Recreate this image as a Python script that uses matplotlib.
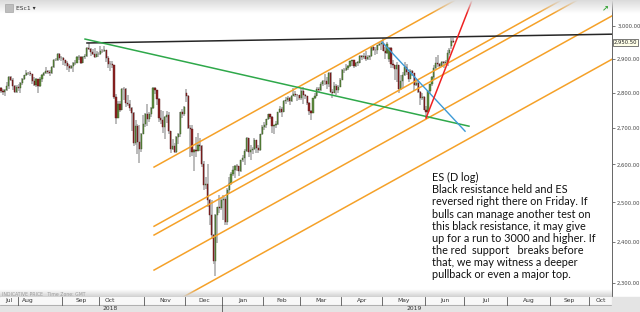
import numpy as np
import matplotlib.pyplot as plt
from matplotlib.ticker import FixedLocator, NullLocator
from matplotlib.patches import Rectangle

# ES daily candles (open, high, low, close)
jul18 = [(2815,2818,2800,2804),(2804,2812,2795,2801),(2801,2810,2792,2807),(2807,2830,2805,2821),
         (2821,2848,2812,2847),(2847,2850,2833,2838),(2838,2844,2808,2819),(2819,2822,2798,2803),
         (2803,2822,2800,2817)]
aug18 = [(2817,2826,2805,2814),(2814,2830,2800,2828),(2828,2842,2824,2841),(2841,2852,2837,2851),
         (2851,2866,2849,2859),(2859,2862,2851,2858),(2858,2864,2850,2854),(2854,2855,2826,2834),
         (2834,2845,2819,2822),(2822,2842,2818,2840),(2840,2841,2800,2819),(2819,2846,2818,2841),
         (2841,2854,2832,2851),(2851,2861,2850,2858),(2858,2875,2856,2863),(2863,2868,2855,2862),
         (2862,2867,2850,2857),(2857,2878,2855,2875),(2875,2900,2873,2897),(2897,2904,2893,2898),
         (2898,2917,2895,2915),(2915,2918,2896,2902),(2902,2908,2895,2903)]
sep18 = [(2903,2905,2883,2897),(2897,2898,2880,2889),(2889,2893,2866,2879),(2879,2886,2862,2873),
         (2873,2883,2870,2878),(2878,2891,2860,2888),(2888,2896,2881,2889),(2889,2910,2888,2905),
         (2905,2912,2898,2906),(2906,2910,2886,2889),(2889,2910,2887,2905),(2905,2915,2900,2908),
         (2908,2936,2906,2932),(2932,2947,2928,2931),(2931,2934,2910,2920),(2920,2930,2912,2916),
         (2916,2932,2903,2907),(2907,2925,2906,2915),(2915,2920,2906,2915)]
oct18 = [(2915,2940,2912,2925),(2925,2931,2917,2924),(2924,2940,2921,2926),(2926,2927,2890,2902),
         (2902,2910,2874,2886),(2886,2895,2863,2885),(2885,2894,2874,2881),(2881,2883,2783,2787),
         (2787,2797,2711,2729),(2729,2776,2728,2768),(2768,2775,2746,2752),(2752,2813,2750,2811),
         (2811,2817,2778,2810),(2810,2813,2759,2770),(2770,2795,2761,2768),(2768,2780,2747,2757),
         (2757,2759,2692,2742),(2742,2744,2651,2658),(2658,2721,2652,2706),(2706,2711,2627,2660),
         (2660,2707,2603,2641),(2641,2686,2633,2683),(2683,2736,2682,2712)]
nov18 = [(2712,2741,2704,2740),(2740,2767,2705,2724),(2724,2745,2717,2739),(2739,2760,2730,2756),
         (2756,2816,2754,2814),(2814,2816,2796,2808),(2808,2809,2764,2782),(2782,2786,2718,2727),
         (2727,2752,2712,2723),(2723,2747,2685,2702),(2702,2735,2670,2731),(2731,2747,2713,2737),
         (2737,2744,2682,2691),(2691,2692,2632,2642),(2642,2670,2640,2650),(2650,2657,2631,2633),
         (2633,2678,2632,2674),(2674,2686,2656,2682),(2682,2746,2674,2744),(2744,2754,2728,2738),
         (2738,2763,2735,2760)]
dec18 = [(2798,2812,2773,2791),(2791,2795,2696,2701),(2701,2708,2621,2697),(2697,2709,2624,2634),
         (2634,2642,2583,2638),(2638,2675,2620,2637),(2637,2686,2645,2652),(2652,2671,2637,2651),
         (2651,2652,2593,2600),(2600,2608,2531,2546),(2546,2567,2535,2547),(2547,2600,2489,2507),
         (2507,2510,2443,2468),(2468,2507,2408,2418),(2418,2419,2346,2352),(2352,2470,2317,2468),
         (2468,2489,2397,2489),(2489,2520,2472,2486),(2486,2511,2480,2507)]
jan19 = [(2507,2519,2456,2510),(2510,2513,2443,2449),(2449,2538,2441,2532),(2532,2566,2524,2550),
         (2550,2580,2545,2575),(2575,2597,2568,2585),(2585,2598,2564,2597),(2597,2600,2582,2596),
         (2596,2597,2568,2583),(2583,2613,2580,2611),(2611,2626,2607,2617),(2617,2642,2598,2637),
         (2637,2675,2634,2671),(2671,2672,2619,2633),(2633,2652,2613,2640),(2640,2648,2628,2643),
         (2643,2673,2640,2666),(2666,2667,2630,2644),(2644,2654,2631,2640),(2640,2684,2636,2682),
         (2682,2708,2680,2704)]
feb19 = [(2704,2718,2695,2707),(2707,2725,2699,2724),(2724,2740,2722,2738),(2738,2739,2725,2732),
         (2732,2734,2687,2706),(2706,2709,2682,2708),(2708,2719,2701,2710),(2710,2745,2708,2744),
         (2744,2761,2742,2753),(2753,2759,2731,2746),(2746,2779,2744,2776),(2776,2787,2768,2780),
         (2780,2791,2774,2785),(2785,2787,2765,2775),(2775,2793,2773,2792),(2792,2813,2791,2796),
         (2796,2804,2787,2794),(2794,2797,2775,2793),(2793,2794,2780,2784)]
mar19 = [(2784,2813,2780,2804),(2804,2817,2768,2793),(2793,2796,2782,2790),(2790,2791,2766,2771),
         (2771,2773,2737,2749),(2749,2751,2722,2743),(2743,2786,2741,2784),(2784,2799,2782,2792),
         (2792,2818,2790,2812),(2812,2816,2801,2809),(2809,2832,2805,2825),(2825,2837,2820,2835),
         (2835,2855,2823,2834),(2834,2845,2811,2826),(2826,2862,2818,2857),(2857,2861,2799,2803),
         (2803,2812,2785,2800),(2800,2831,2799,2820),(2820,2827,2793,2809),(2809,2822,2800,2818),
         (2818,2842,2816,2838)]
apr19 = [(2838,2869,2836,2867),(2867,2872,2858,2867),(2867,2885,2865,2873),(2873,2882,2866,2880),
         (2880,2894,2877,2893),(2893,2897,2880,2896),(2896,2897,2872,2878),(2878,2891,2877,2889),
         (2889,2894,2880,2889),(2889,2911,2888,2908),(2908,2912,2898,2906),(2906,2918,2900,2908),
         (2908,2923,2894,2901),(2901,2911,2896,2906),(2906,2911,2897,2909),(2909,2937,2905,2935),
         (2935,2938,2925,2928),(2928,2935,2912,2927),(2927,2942,2915,2941),(2941,2950,2938,2945),
         (2945,2953,2928,2948)]
may19 = [(2948,2964,2923,2925),(2925,2935,2900,2918),(2918,2950,2916,2946),(2900,2935,2890,2933),
         (2933,2937,2873,2885),(2885,2897,2872,2881),(2881,2883,2837,2871),(2871,2892,2832,2882),
         (2882,2883,2800,2812),(2812,2851,2809,2835),(2835,2860,2815,2852),(2852,2891,2850,2877),
         (2877,2885,2853,2860),(2860,2860,2832,2841),(2841,2869,2840,2865),(2865,2867,2850,2857),
         (2857,2859,2805,2823),(2823,2841,2820,2828),(2828,2840,2800,2803),(2803,2806,2766,2785),
         (2785,2799,2780,2789),(2789,2791,2750,2752)]
jun19 = [(2752,2761,2728,2744),(2744,2806,2743,2804),(2804,2827,2796,2826),(2826,2850,2820,2845),
         (2845,2881,2837,2874),(2874,2906,2870,2887),(2887,2912,2875,2885),(2885,2888,2874,2880),
         (2880,2895,2877,2892),(2892,2895,2874,2888),(2888,2897,2884,2890),(2890,2926,2880,2918),
         (2918,2932,2912,2927),(2940,2963,2931,2955),(2955,2964,2947,2950.5)]

# month labels and trading-day index where each month starts (Jul 2019 on = empty future space)
month_names = ['Jul','Aug','Sep','Oct','Nov','Dec','Jan','Feb','Mar','Apr','May','Jun','Jul','Aug','Sep','Oct']
month_starts = [0, 9, 32, 51, 74, 95, 114, 135, 154, 175, 196, 218, 238, 260, 282, 302]
years = ['2018', '2019']

price_ticks = [2300, 2400, 2500, 2600, 2700, 2800, 2900, 3000]
last_price = 2950.5

# drawn lines: (x0, p0, x1, p1)
black_res = (44.1, 2948, 313.4, 2975)
green_line = (43.1, 2960, 240.0, 2705)
blue_line = (195.4, 2951, 238.0, 2691)
red_support = (218.0, 2728, 245.7, 3148)
orange_lines = [(78.5, 2593, 313.4, 3372),
                (78.5, 2439, 313.4, 3173),
                (78.5, 2417, 313.4, 3144),
                (78.5, 2331, 313.4, 3032),
                (76.4, 2224, 313.4, 2899)]

note = ("ES (D log)\nBlack resistance held and ES\nreversed right there on Friday. If\n"
        "bulls can manage another test on\nthis black resistance, it may give\n"
        "up for a run to 3000 and higher. If\nthe red  support   breaks before\n"
        "that, we may witness a deeper\npullback or even a major top.")

candles = np.array(jul18 + aug18 + sep18 + oct18 + nov18 + dec18 + jan19 + feb19 +
                   mar19 + apr19 + may19 + jun19, dtype=float)
o, h, l, c = candles.T
x = np.arange(len(candles))

W, H = 640, 312
fig = plt.figure(figsize=(6.4, 3.12), dpi=100)
ax = fig.add_axes([0, 15/H, 612/W, 297/H])

up = c >= o
ax.vlines(x, l, h, color='#a8a8a8', lw=1.1, zorder=2)
body_lo = np.minimum(o, c)
body_hi = np.maximum(o, c)
body_hi = np.where(body_hi - body_lo < 1, body_lo + 1, body_hi)
ax.bar(x[up], body_hi[up] - body_lo[up], bottom=body_lo[up], width=0.6,
       color='#5f8f3e', edgecolor='#3b5a26', lw=0.3, zorder=3)
ax.bar(x[~up], body_hi[~up] - body_lo[~up], bottom=body_lo[~up], width=0.6,
       color='#8e2323', edgecolor='#5a1414', lw=0.3, zorder=3)

for ln in orange_lines:
    ax.plot([ln[0], ln[2]], [ln[1], ln[3]], color='#f5a128', lw=1.1, zorder=4)
ax.plot([black_res[0], black_res[2]], [black_res[1], black_res[3]], color='#262626', lw=1.1, zorder=5)
ax.plot([green_line[0], green_line[2]], [green_line[1], green_line[3]], color='#2ea84a', lw=1.1, zorder=5)
ax.plot([blue_line[0], blue_line[2]], [blue_line[1], blue_line[3]], color='#3d9ad6', lw=1.0, zorder=5)
ax.plot([red_support[0], red_support[2]], [red_support[1], red_support[3]], color='#ee2222', lw=1.1, zorder=5)

ax.set_yscale('log')
ax.set_xlim(-0.5, 313.35)
ax.set_ylim(2267, 3082)
ax.yaxis.tick_right()
ax.yaxis.set_major_locator(FixedLocator(price_ticks))
ax.yaxis.set_minor_locator(NullLocator())
ax.set_yticklabels([f'{p:,.2f}' for p in price_ticks])
ax.tick_params(axis='y', length=2.5, width=0.5, colors='#444444', labelsize=3.8, pad=1.2)
ax.set_xticks([])
for s in ['top', 'left']:
    ax.spines[s].set_visible(False)
ax.spines['right'].set_color('#666666')
ax.spines['right'].set_linewidth(0.7)
ax.spines['bottom'].set_color('#555555')
ax.spines['bottom'].set_linewidth(0.8)

ax.text(1.003, last_price, f'{last_price:,.2f}', transform=ax.get_yaxis_transform(),
        fontsize=3.8, va='center', ha='left', color='#222222',
        bbox=dict(boxstyle='square,pad=0.2', fc='#ffffe8', ec='#444444', lw=0.5), clip_on=False)

fig.text(432/W, 1 - 172/H, note, ha='left', va='top', fontsize=7.8, family='Lato',
         linespacing=1.13, color='#111111')

# bottom date bar
axd = fig.add_axes([0, 0, 612/W, 15/H])
axd.set_xlim(-0.5, 313.35)
axd.set_ylim(0, 2)
axd.axhspan(1, 2, color='#f8f8f8')
axd.axhspan(0, 1, color='#e4e4e4')
axd.axhline(1, color='#9a9a9a', lw=0.5)
axd.axis('off')
bounds = month_starts + [314]
for i, name in enumerate(month_names):
    if i > 0:
        axd.plot([month_starts[i] - 0.5] * 2, [1, 2], color='#555555', lw=0.6)
    mid = (bounds[i] + bounds[i + 1]) / 2 - 0.5
    if name in ('Aug', 'Oct') and i < 5:
        mid = month_starts[i] + 5
    axd.text(mid, 1.5, name, ha='center', va='center', fontsize=4.3, color='#333333')
axd.plot([113.5, 113.5], [0, 1], color='#555555', lw=0.6)
axd.text(56, 0.5, years[0], ha='center', va='center', fontsize=4.3, color='#333333')
axd.text(212, 0.5, years[1], ha='center', va='center', fontsize=4.3, color='#333333')
fig.patches.append(Rectangle((612/W, 0), 28/W, 15/H, transform=fig.transFigure,
                             color='#e4e4e4', zorder=0))

# grey fades along the top header and above the date bar
grad_top = np.ones((20, 1, 4))
grad_top[..., :3] = 0.86
grad_top[:, 0, 3] = np.linspace(1, 0, 20)
axt = fig.add_axes([0, 1 - 14/H, 1, 14/H])
axt.imshow(grad_top, aspect='auto', extent=(0, 1, 0, 1))
axt.axis('off')
grad_bot = np.ones((20, 1, 4))
grad_bot[..., :3] = 0.82
grad_bot[:, 0, 3] = np.linspace(0, 1, 20)
axb = fig.add_axes([0, 15/H, 612/W, 8/H])
axb.imshow(grad_bot, aspect='auto', extent=(0, 1, 0, 1))
axb.axis('off')
fig.text(2/W, 1 - 294/H, 'INDICATIVE PRICE   Time Zone: GMT', fontsize=3.3, color='#9a9a9a',
         va='center', ha='left')

# header bits
fig.patches.append(Rectangle((5/W, 1 - 12/H), 8/W, 8/H, transform=fig.transFigure,
                             fc='#bdbdbd', ec='#999999', lw=0.4, zorder=5))
fig.text(16/W, 1 - 8/H, 'ESc1 \u25be', fontsize=4.3, color='#333333', va='center', ha='left')
fig.text(605/W, 1 - 8/H, '\u2197', fontsize=6, color='#3aa63a', va='center', ha='center',
         fontweight='bold')

fig.savefig('out.png', dpi=100, facecolor='white')
